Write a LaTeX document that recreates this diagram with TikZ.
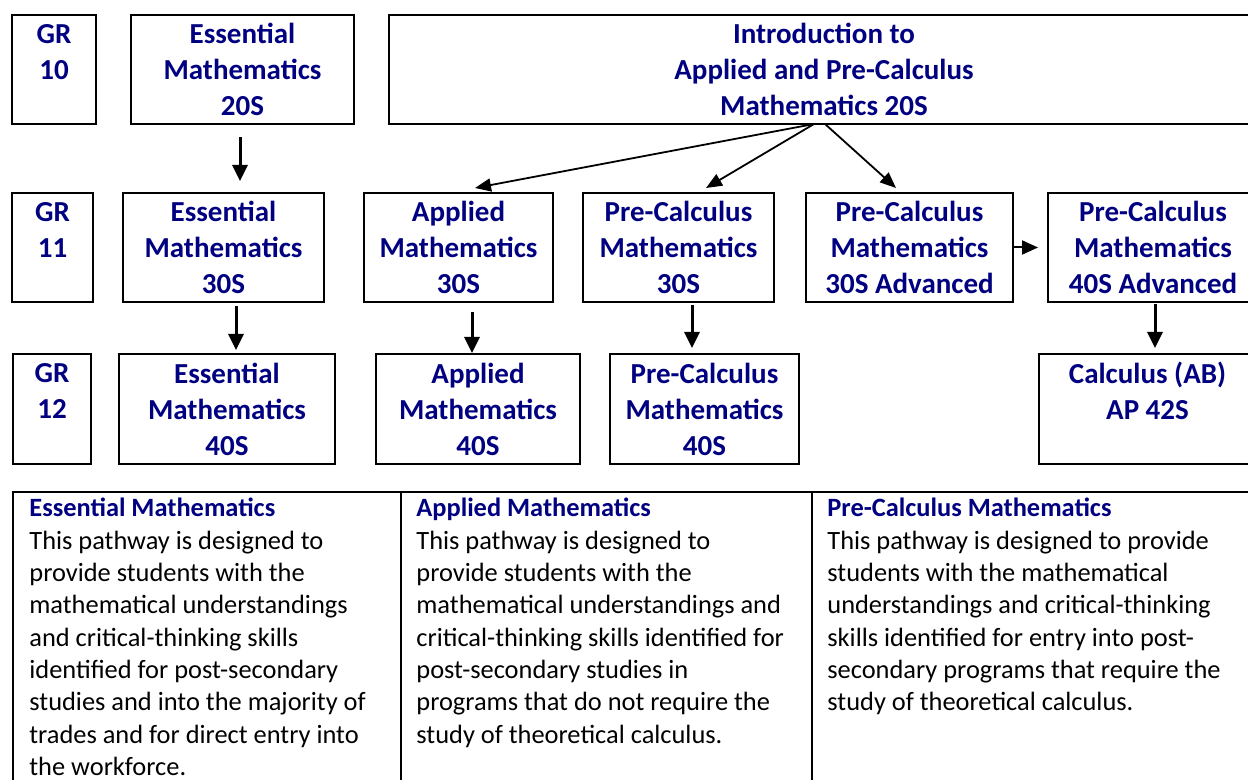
\documentclass[tikz,border=0pt]{standalone}
\usepackage{fontspec}
\setmainfont{Carlito}
\usetikzlibrary{arrows.meta, positioning}
\definecolor{navy}{RGB}{0,0,128}

\newcommand{\pathhead}[1]{{\color{navy}\bfseries #1}}

\begin{document}
\begin{tikzpicture}[
    x=0.5pt, y=-0.5pt,
    >={Triangle[length=8pt, width=7.5pt]},
    box/.style={rectangle, draw, line width=1pt, inner sep=0pt, outer sep=0pt, align=center, text=navy,
      minimum height=54.5pt, font=\fontsize{14.5}{18}\selectfont\bfseries},
    flow/.style={->, line width=1.5pt},
    branch/.style={-{Triangle[length=8pt, width=6.5pt]}, line width=0.9pt},
    note/.style={anchor=north west, align=left, inner sep=0pt,
      font=\fontsize{13.2}{16.15}\selectfont},
    rule/.style={line width=1pt}
  ]

  \useasboundingbox (0,0) rectangle (1248,780);

  % grade 10
  \node[box, minimum width=42pt] (gr10) at (54,69.5) {GR\\10\\\mbox{}};
  \node[box, minimum width=111.5pt, right=17.5pt of gr10] (ess20) {Essential\\Mathematics\\20S};
  \node[box, minimum width=435pt, right=17.5pt of ess20] (intro) {Introduction to\\Applied and Pre-Calculus\\Mathematics 20S};

  % grade 11
  \node[box, minimum width=40.5pt] (gr11) at (52.5,247.5) {GR\\11\\\mbox{}};
  \node[box, minimum width=100.5pt, right=15pt of gr11] (ess30) {Essential\\Mathematics\\30S};
  \node[box, minimum width=94.5pt, right=20pt of ess30] (app30) {Applied\\Mathematics\\30S};
  \node[box, minimum width=95.5pt, right=15pt of app30] (pc30) {Pre-Calculus\\Mathematics\\30S};
  \node[box, minimum width=103.5pt, right=16pt of pc30] (pc30a) {Pre-Calculus\\Mathematics\\30S Advanced};
  \node[box, minimum width=105pt, right=17.5pt of pc30a] (pc40a) {Pre-Calculus\\Mathematics\\40S Advanced};

  % grade 12
  \node[box, minimum width=39pt, minimum height=55pt] (gr12) at (52,409) {GR\\12\\\mbox{}};
  \node[box, minimum width=108pt, minimum height=55pt, right=14pt of gr12] (ess40) {Essential\\Mathematics\\40S};
  \node[box, minimum width=102pt, minimum height=55pt, right=20.5pt of ess40] (app40) {Applied\\Mathematics\\40S};
  \node[box, minimum width=94.5pt, minimum height=55pt, right=15pt of app40] (pc40) {Pre-Calculus\\Mathematics\\40S};
  \node[box, minimum width=108.5pt, minimum height=55pt, right=120pt of pc40] (calc) {Calculus (AB)\\AP 42S\\\mbox{}};

  % pathways
  \draw[flow] ([xshift=-1.25pt, yshift=-6.5pt]ess20.south) -- ([xshift=8.25pt, yshift=6pt]ess30.north);
  \draw[flow] ([xshift=6.25pt, yshift=-2pt]ess30.south) -- ([xshift=4.5pt, yshift=2pt]ess40.north);
  \draw[flow] ([xshift=6.75pt, yshift=-5pt]app30.south) -- ([xshift=-3pt, yshift=0.5pt]app40.north);
  \draw[flow] ([xshift=6.75pt, yshift=-1.5pt]pc30.south) -- ([xshift=-6.25pt, yshift=3pt]pc40.north);
  \draw[flow] ([xshift=1pt, yshift=-1pt]pc40a.south) -- ([xshift=3.75pt, yshift=3pt]calc.north);
  \draw[-{Triangle[length=8pt, width=7pt]}, line width=1pt, shorten >=5pt] (pc30a.east) -- (pc40a.west);

  \draw[branch] ([xshift=-5pt]intro.south) -- ([xshift=8.25pt, yshift=2.5pt]app30.north);
  \draw[branch] ([xshift=-5pt]intro.south) -- ([xshift=13.75pt, yshift=2.5pt]pc30.north);
  \draw[branch] ([xshift=0.5pt]intro.south) -- ([xshift=-6.75pt, yshift=2.5pt]pc30a.north);

  % descriptions
  \draw[rule] (13,492) rectangle (1262,800);
  \draw[rule] (401,492) -- (401,800);
  \draw[rule] (812,492) -- (812,800);

  \node[note] (essnote) at (29,498) {\pathhead{Essential Mathematics}\\
    This pathway is designed to\\
    provide students with the\\
    mathematical understandings\\
    and critical-thinking skills\\
    identified for post-secondary\\
    studies and into the majority of\\
    trades and for direct entry into\\
    the workforce.};
  \node[note] (appnote) at (416,498) {\pathhead{Applied Mathematics}\\
    This pathway is designed to\\
    provide students with the\\
    mathematical understandings and\\
    critical-thinking skills identified for\\
    post-secondary studies in\\
    programs that do not require the\\
    study of theoretical calculus.};
  \node[note] (pcnote) at (827,498) {\pathhead{Pre-Calculus Mathematics}\\
    This pathway is designed to provide\\
    students with the mathematical\\
    understandings and critical-thinking\\
    skills identified for entry into post-\\
    secondary programs that require the\\
    study of theoretical calculus.};

\end{tikzpicture}
\end{document}
